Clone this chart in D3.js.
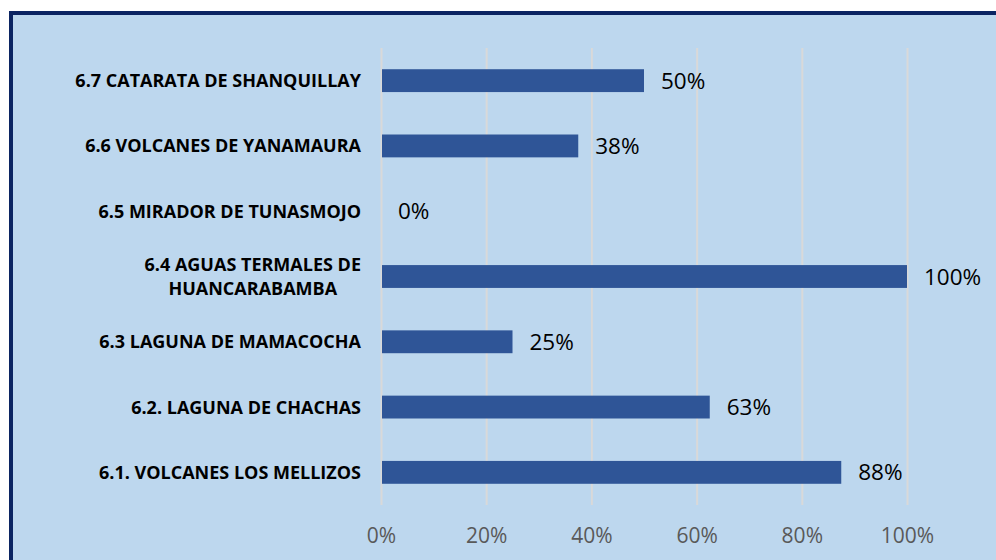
<!DOCTYPE html>
<html><head><meta charset="utf-8">
<script src="https://cdn.jsdelivr.net/npm/d3@7"></script>
<style>body{margin:0;background:#fff}svg{display:block}</style>
</head><body><svg id="c" width="996" height="560"></svg>
<script>
const categories = [
  ["6.7 CATARATA DE SHANQUILLAY"],
  ["6.6 VOLCANES DE YANAMAURA"],
  ["6.5 MIRADOR DE TUNASMOJO"],
  ["6.4 AGUAS TERMALES DE", "HUANCARABAMBA"],
  ["6.3 LAGUNA DE MAMACOCHA"],
  ["6.2. LAGUNA DE CHACHAS"],
  ["6.1. VOLCANES LOS MELLIZOS"]
];
const values = [0.5, 0.375, 0, 1, 0.25, 0.625, 0.875];
const ticks = [0, 0.2, 0.4, 0.6, 0.8, 1];

const svg = d3.select("#c");
svg.append("rect").attr("x", 11).attr("y", 13).attr("width", 1000).attr("height", 600)
  .attr("fill", "#BDD7EE").attr("stroke", "#0B2462").attr("stroke-width", 4);

const x = d3.scaleLinear().domain([0, 1]).range([381, 907]);
const y = d3.scaleBand().domain(d3.range(categories.length)).range([48, 505]).paddingInner(0.65).paddingOuter(0.325);

const g = svg.append("g");
const xAxis = d3.axisBottom(x).tickValues(ticks).tickFormat(d3.format(".0%")).tickSize(457).tickPadding(22);
const ax = g.append("g").attr("transform", "translate(0,48)").call(xAxis);
ax.select(".domain").remove();
ax.selectAll(".tick line").attr("stroke", "#D9D9D9").attr("stroke-width", 2);
ax.selectAll(".tick text").attr("fill", "#595959").attr("font-family", "Open Sans").attr("font-size", 21).attr("dy", "0.75em");

g.selectAll("rect.bar").data(values).join("rect").attr("class", "bar")
  .attr("x", x(0) + 1).attr("y", (d, i) => y(i)).attr("height", y.bandwidth())
  .attr("width", d => Math.max(0, x(d) - x(0) - 1)).attr("fill", "#2F5597");

g.selectAll("text.val").data(values).join("text").attr("class", "val")
  .attr("x", d => x(d) + 17).attr("y", (d, i) => y(i) + y.bandwidth() / 2)
  .attr("dy", "0.36em").attr("font-family", "Open Sans").attr("font-size", 22.5).attr("fill", "#000")
  .text(d => d3.format(".0%")(d));

categories.forEach((lines, i) => {
  const cy = y(i) + y.bandwidth() / 2;
  const t = g.append("text").attr("font-family", "Open Sans").attr("font-weight", "bold")
    .attr("font-size", 18).attr("fill", "#000").attr("text-anchor", "middle");
  const lh = 24;
  lines.forEach((s, j) => {
    t.append("tspan").attr("x", 0).attr("y", cy + (j - (lines.length - 1) / 2) * lh).attr("dy", "0.36em").text(s);
  });
  let maxW = 0;
  t.selectAll("tspan").each(function () { maxW = Math.max(maxW, this.getComputedTextLength()); });
  t.selectAll("tspan").attr("x", 361 - maxW / 2);
});
</script></body></html>
